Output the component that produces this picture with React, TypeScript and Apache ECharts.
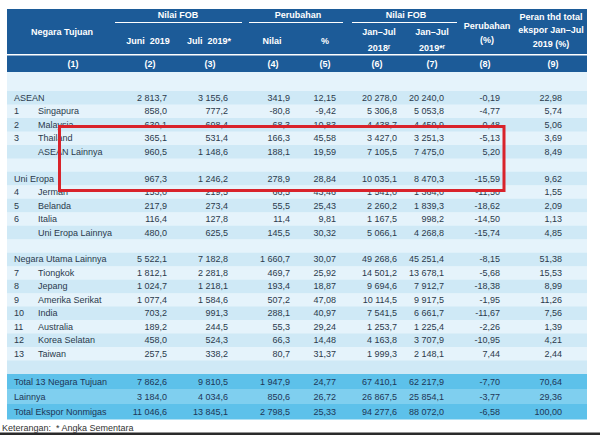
import React, { useEffect, useRef } from "react";
import * as echarts from "echarts";

// ---------- data ----------
const rowNumbers = ["", "1", "2", "3", "", "", "", "4", "5", "6", "", "", "", "7", "8", "9", "10", "11", "12", "13", "", "", "", ""];
const rowNames = [
  "ASEAN", "Singapura", "Malaysia", "Thailand", "ASEAN Lainnya", "",
  "Uni Eropa", "Jerman", "Belanda", "Italia", "Uni Eropa Lainnya", "",
  "Negara Utama Lainnya", "Tiongkok", "Jepang", "Amerika Serikat", "India", "Australia", "Korea Selatan", "Taiwan", "",
  "Total 13 Negara Tujuan", "Lainnya", "Total Ekspor Nonmigas",
];
const groupRows = [0, 6, 12, 21, 22, 23];
const juni2019 = [2813.7, 858.0, 630.1, 365.1, 960.5, null, 967.3, 153.0, 217.9, 116.4, 480.0, null, 5522.1, 1812.1, 1024.7, 1077.4, 703.2, 189.2, 458.0, 257.5, null, 7862.6, 3184.0, 11046.6];
const juli2019 = [3155.6, 777.2, 698.4, 531.4, 1148.6, null, 1246.2, 219.5, 273.4, 127.8, 625.5, null, 7182.8, 2281.8, 1218.1, 1584.6, 991.3, 244.5, 524.3, 338.2, null, 9810.5, 4034.6, 13845.1];
const perubahanNilai = [341.9, -80.8, 68.3, 166.3, 188.1, null, 278.9, 66.5, 55.5, 11.4, 145.5, null, 1660.7, 469.7, 193.4, 507.2, 288.1, 55.3, 66.3, 80.7, null, 1947.9, 850.6, 2798.5];
const perubahanPersen = [12.15, -9.42, 10.83, 45.58, 19.59, null, 28.84, 43.46, 25.43, 9.81, 30.32, null, 30.07, 25.92, 18.87, 47.08, 40.97, 29.24, 14.48, 31.37, null, 24.77, 26.72, 25.33];
const janJul2018 = [20278.0, 5306.8, 4438.7, 3427.0, 7105.5, null, 10035.1, 1541.0, 2260.2, 1167.5, 5066.1, null, 49268.6, 14501.2, 9694.6, 10114.5, 7541.5, 1253.7, 4163.8, 1999.3, null, 67410.1, 26867.5, 94277.6];
const janJul2019 = [20240.0, 5053.8, 4459.9, 3251.3, 7475.0, null, 8470.3, 1364.0, 1839.3, 998.2, 4268.8, null, 45251.4, 13678.1, 7912.7, 9917.5, 6661.7, 1225.4, 3707.9, 2148.1, null, 62217.9, 25854.1, 88072.0];
const perubahanJanJul = [-0.19, -4.77, 0.48, -5.13, 5.20, null, -15.59, -11.50, -18.62, -14.50, -15.74, null, -8.15, -5.68, -18.38, -1.95, -11.67, -2.26, -10.95, 7.44, null, -7.70, -3.77, -6.58];
const peranTotal = [22.98, 5.74, 5.06, 3.69, 8.49, null, 9.62, 1.55, 2.09, 1.13, 4.85, null, 51.38, 15.53, 8.99, 11.26, 7.56, 1.39, 4.21, 2.44, null, 70.64, 29.36, 100.00];
const valueColumns = [juni2019, juli2019, perubahanNilai, perubahanPersen, janJul2018, janJul2019, perubahanJanJul, peranTotal];
const columnDecimals = [1, 1, 1, 2, 1, 1, 2, 2];
const columnNumberLabels = ["(1)", "(2)", "(3)", "(4)", "(5)", "(6)", "(7)", "(8)", "(9)"];
const noteText = "Keterangan:  * Angka Sementara";

// ---------- layout ----------
const FONT = '"Liberation Sans", Arial, sans-serif';
const TABLE_L = 7;
const TABLE_R = 587;
const valueRightX = [167, 228, 290, 336, 397, 444, 500, 562];
const colNumberX = [73, 150, 210, 273, 325, 377, 432, 485, 553];
const HEADER_BLUE = "#1c5b98";
const TEXT = "#2b3a4c";

function fmt(v: number | null, d: number): string {
  if (v === null || v === undefined) return "";
  const neg = v < 0;
  const s = Math.abs(v).toFixed(d);
  const [ip, dp] = s.split(".");
  const grouped = ip.replace(/\B(?=(\d{3})+(?!\d))/g, " ");
  return (neg ? "-" : "") + grouped + (dp ? "," + dp : "");
}

function txt(text: string, x: number, y: number, opts: any = {}) {
  const align = opts.align || "left";
  return {
    type: "text",
    x,
    y,
    z: opts.z || 10,
    style: {
      text,
      fill: opts.fill || TEXT,
      fontFamily: FONT,
      fontSize: opts.size || 9,
      fontWeight: opts.bold ? "bold" : "normal",
      align,
      textAlign: align,
      verticalAlign: "middle",
      textVerticalAlign: "middle",
    },
  };
}

function bandColor(i: number): string {
  if (i === 21 || i === 23) return "#5dc1ea";
  if (i === 22) return "#7fcfef";
  return i % 2 === 0 ? "#cfe9f6" : "#e5f3fb";
}

function makeRenderItem(offset: number) {
  return (params: any, api: any) => {
    const idx = api.value(1);
    const i = idx + offset;
    const cy = api.coord([0, idx])[1];
    const h = api.size([0, 1])[1];
    const children: any[] = [
      {
        type: "rect",
        shape: { x: TABLE_L, y: cy - h / 2, width: TABLE_R - TABLE_L, height: h + 0.5 },
        style: { fill: bandColor(i) },
      },
    ];
    const isGroup = groupRows.indexOf(i) >= 0;
    const fill = i >= 21 ? "#1e3656" : TEXT;
    if (isGroup) {
      children.push(txt(rowNames[i], 14, cy, { fill }));
    } else {
      if (rowNumbers[i]) children.push(txt(rowNumbers[i], 14, cy, { fill }));
      if (rowNames[i]) children.push(txt(rowNames[i], 38, cy, { fill }));
    }
    valueColumns.forEach((col, c) => {
      const v = col[i];
      if (v !== null && v !== undefined) {
        children.push(txt(fmt(v, columnDecimals[c]), valueRightX[c], cy, { align: "right", fill }));
      }
    });
    return { type: "group", children };
  };
}

export default function App() {
  const ref = useRef<HTMLDivElement>(null);
  useEffect(() => {
    if (!ref.current) return;
    const chart = echarts.init(ref.current, undefined, { renderer: "svg" });
    const mainCount = 21;
    const totalCount = 3;
    const mainCats = Array.from({ length: mainCount }, (_, k) => "r" + k);
    const totalCats = Array.from({ length: totalCount }, (_, k) => "t" + k);

    const W = "#ffffff";
    const headerGraphics: any[] = [
      { type: "rect", shape: { x: TABLE_L, y: 9, width: TABLE_R - TABLE_L, height: 45 }, style: { fill: HEADER_BLUE } },
      { type: "rect", shape: { x: TABLE_L, y: 55.5, width: TABLE_R - TABLE_L, height: 16.5 }, style: { fill: HEADER_BLUE } },
      { type: "rect", shape: { x: TABLE_L, y: 72, width: TABLE_R - TABLE_L, height: 19 }, style: { fill: "#e5f3fb" } },
      { type: "line", shape: { x1: 115, y1: 22.5, x2: 242, y2: 22.5 }, style: { stroke: W, lineWidth: 1.2 } },
      { type: "line", shape: { x1: 249, y1: 22.5, x2: 343, y2: 22.5 }, style: { stroke: W, lineWidth: 1.2 } },
      { type: "line", shape: { x1: 352, y1: 22.5, x2: 457, y2: 22.5 }, style: { stroke: W, lineWidth: 1.2 } },
      txt("Nilai FOB", 178, 15, { align: "center", fill: W, bold: true }),
      txt("Perubahan", 298, 15, { align: "center", fill: W, bold: true }),
      txt("Nilai FOB", 406, 15, { align: "center", fill: W, bold: true }),
      txt("Negara Tujuan", 62, 32, { align: "center", fill: W, bold: true }),
      txt("Juni  2019", 148, 41, { align: "center", fill: W, bold: true }),
      txt("Juli  2019*", 209, 41, { align: "center", fill: W, bold: true }),
      txt("Nilai", 272, 41, { align: "center", fill: W, bold: true }),
      txt("%", 325, 41, { align: "center", fill: W, bold: true }),
      txt("Jan\u2013Jul", 379, 32, { align: "center", fill: W, bold: true }),
      txt("2018\u02b3", 379, 48, { align: "center", fill: W, bold: true }),
      txt("Jan\u2013Jul", 432, 32, { align: "center", fill: W, bold: true }),
      txt("2019*\u02b3", 432, 48, { align: "center", fill: W, bold: true }),
      txt("Perubahan", 487, 26, { align: "center", fill: W, bold: true }),
      txt("(%)", 487, 40, { align: "center", fill: W, bold: true }),
      txt("Peran thd total", 551, 17, { align: "center", fill: W, bold: true }),
      txt("ekspor Jan\u2013Jul", 551, 30, { align: "center", fill: W, bold: true }),
      txt("2019 (%)", 551, 44, { align: "center", fill: W, bold: true }),
      ...columnNumberLabels.map((t, k) => txt(t, colNumberX[k], 64, { align: "center", fill: W, bold: true })),
      txt(noteText, 2, 428, { fill: "#333333" }),
      { type: "rect", shape: { x: 0, y: 432.5, width: 600, height: 2.5 }, style: { fill: "#2a2a2a" } },
      {
        type: "rect",
        z: 100,
        shape: { x: 59.5, y: 126.5, width: 444.5, height: 64 },
        style: { fill: "none", stroke: "#d9232b", lineWidth: 3 },
      },
    ];

    chart.setOption({
      animation: false,
      backgroundColor: "#ffffff",
      grid: [
        { left: 0, right: 0, top: 91, height: 283 },
        { left: 0, right: 0, top: 374, height: 45 },
      ],
      xAxis: [
        { type: "value", min: 0, max: 600, show: false, gridIndex: 0 },
        { type: "value", min: 0, max: 600, show: false, gridIndex: 1 },
      ],
      yAxis: [
        { type: "category", data: mainCats, inverse: true, show: false, gridIndex: 0 },
        { type: "category", data: totalCats, inverse: true, show: false, gridIndex: 1 },
      ],
      graphic: headerGraphics,
      series: [
        {
          type: "custom",
          xAxisIndex: 0,
          yAxisIndex: 0,
          renderItem: makeRenderItem(0),
          data: mainCats.map((_, k) => [0, k]),
          encode: { x: 0, y: 1 },
          silent: true,
        },
        {
          type: "custom",
          xAxisIndex: 1,
          yAxisIndex: 1,
          renderItem: makeRenderItem(mainCount),
          data: totalCats.map((_, k) => [0, k]),
          encode: { x: 0, y: 1 },
          silent: true,
        },
      ],
    });
    return () => chart.dispose();
  }, []);
  return <div ref={ref} style={{ position: "fixed", left: 0, top: 0, width: 600, height: 437 }} />;
}
